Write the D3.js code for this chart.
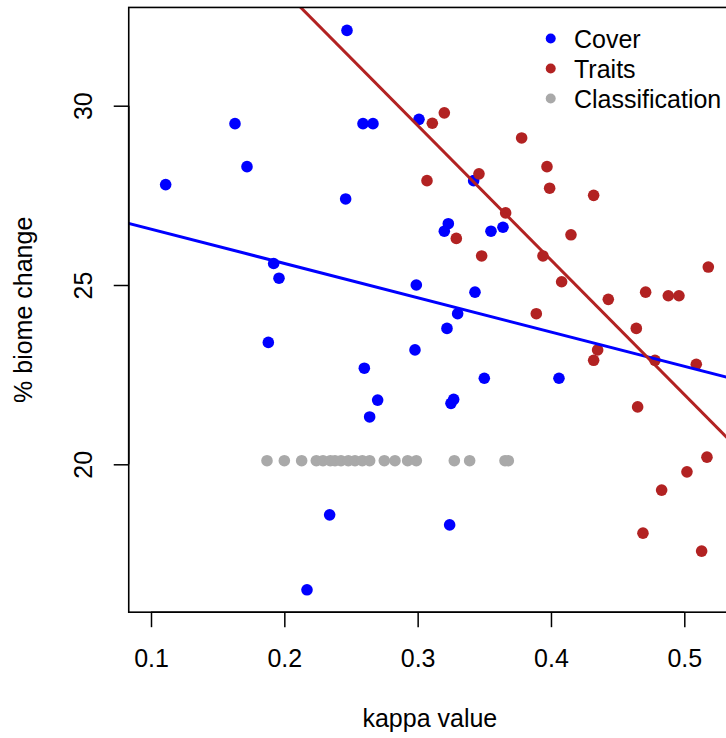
<!DOCTYPE html>
<html>
<head>
<meta charset="utf-8">
<script src="https://cdn.jsdelivr.net/npm/d3@7"></script>
<style>
  html, body { margin: 0; padding: 0; background: #fff; overflow: hidden; }
  svg { display: block; }
  text { font-family: "Liberation Sans", Arial, Helvetica, sans-serif; fill: #000; }
</style>
</head>
<body>
<svg id="chart" width="726" height="738"></svg>
<script>
// ---- data ----
const coverX = [0.111, 0.163, 0.172, 0.247, 0.246, 0.259, 0.2665, 0.301, 0.342, 0.323, 0.320, 0.355, 0.364,
  0.192, 0.196, 0.299, 0.343, 0.330, 0.322, 0.298, 0.188, 0.260, 0.350, 0.406, 0.270, 0.264, 0.325, 0.327,
  0.234, 0.217, 0.324];
const coverY = [27.80, 29.50, 28.30, 32.10, 27.40, 29.50, 29.50, 29.62, 27.91, 26.71, 26.50, 26.50, 26.61,
  25.60, 25.19, 25.00, 24.80, 24.20, 23.79, 23.19, 23.40, 22.68, 22.40, 22.40, 21.79, 21.32, 21.70, 21.81,
  18.59, 16.50, 18.31];

const traitsX = [0.320, 0.311, 0.378, 0.307, 0.346, 0.397, 0.399, 0.432, 0.366, 0.329, 0.415, 0.348, 0.394,
  0.518, 0.408, 0.443, 0.471, 0.488, 0.496, 0.389, 0.464, 0.435, 0.432, 0.478, 0.509, 0.465, 0.517, 0.502,
  0.483, 0.469, 0.513];
const traitsY = [29.80, 29.51, 29.10, 27.91, 28.10, 28.30, 27.70, 27.50, 27.01, 26.30, 26.40, 25.81, 25.81,
  25.50, 25.09, 24.60, 24.80, 24.70, 24.70, 24.20, 23.79, 23.19, 22.90, 22.90, 22.79, 21.60, 20.20, 19.79,
  19.28, 18.08, 17.58];

const classX = [0.187, 0.200, 0.213, 0.224, 0.229, 0.2345, 0.238, 0.2425, 0.248, 0.253, 0.2585, 0.264,
  0.275, 0.283, 0.2925, 0.299, 0.3275, 0.339, 0.3655, 0.368];
const classY = [20.1, 20.1, 20.1, 20.1, 20.1, 20.1, 20.1, 20.1, 20.1, 20.1, 20.1, 20.1,
  20.1, 20.1, 20.1, 20.1, 20.1, 20.1, 20.1, 20.1];

// regression lines: [intercept, slope]
const coverFit = [27.515, -9.564];
const traitsFit = [40.706, -37.52];

const xTicks = [0.1, 0.2, 0.3, 0.4, 0.5];
const yTicks = [20, 25, 30];
const xLim = [0.0833, 0.535];
const yLim = [15.876, 32.74];

const seriesNames = ["Cover", "Traits", "Classification"];
const seriesColors = ["#0000ff", "#b22222", "#a9a9a9"];
const xTitle = "kappa value";
const yTitle = "% biome change";

// ---- drawing ----
(function () {
const FS = "25px";
const svg = d3.select("#chart");
const x = d3.scaleLinear().domain([0.1, 0.5]).range([151, 684.3]);
const y = d3.scaleLinear().domain([20, 30]).range([464.3, 105.7]);

const pL = x(xLim[0]), pR = x(xLim[1]), pT = y(yLim[1]), pB = y(yLim[0]);

svg.append("defs").append("clipPath").attr("id", "plotclip")
  .append("rect").attr("x", pL).attr("y", pT).attr("width", pR - pL).attr("height", pB - pT);

const plot = svg.append("g").attr("clip-path", "url(#plotclip)");

const series = [
  { xs: coverX, ys: coverY, c: seriesColors[0] },
  { xs: traitsX, ys: traitsY, c: seriesColors[1] },
  { xs: classX, ys: classY, c: seriesColors[2] }
];
series.forEach(s => {
  plot.append("g").selectAll("circle")
    .data(d3.range(s.xs.length))
    .join("circle")
    .attr("cx", i => x(s.xs[i]))
    .attr("cy", i => y(s.ys[i]))
    .attr("r", 5.8)
    .attr("fill", s.c);
});

[[coverFit, seriesColors[0]], [traitsFit, seriesColors[1]]].forEach(([f, c]) => {
  const x0 = xLim[0] - 0.1, x1 = xLim[1] + 0.1;
  plot.append("line")
    .attr("x1", x(x0)).attr("y1", y(f[0] + f[1] * x0))
    .attr("x2", x(x1)).attr("y2", y(f[0] + f[1] * x1))
    .attr("stroke", c).attr("stroke-width", 3);
});

// frame
svg.append("rect").attr("x", pL).attr("y", pT)
  .attr("width", pR - pL).attr("height", pB - pT)
  .attr("fill", "none").attr("stroke", "#000").attr("stroke-width", 1.6);

// x axis
const xAxis = d3.axisBottom(x).tickValues(xTicks).tickSize(15).tickPadding(0).tickFormat(d3.format(".1f"));
const gx = svg.append("g").attr("transform", `translate(0,${pB})`).call(xAxis);
gx.select(".domain").attr("stroke-width", 1.6).attr("d", `M${x(xTicks[0])},0H${x(xTicks[xTicks.length - 1])}`);
gx.selectAll(".tick line").attr("stroke-width", 1.5);
gx.selectAll(".tick text").attr("y", 55).attr("dy", null)
  .style("font-size", FS).style("font-family", "Liberation Sans, Arial, sans-serif").attr("fill", "#000");

// y axis
const yAxis = d3.axisLeft(y).tickValues(yTicks).tickSize(15).tickFormat(d3.format("d"));
const gy = svg.append("g").attr("transform", `translate(${pL},0)`).call(yAxis);
gy.select(".domain").attr("stroke-width", 1.6).attr("d", `M0,${y(yTicks[0])}V${y(yTicks[yTicks.length - 1])}`);
gy.selectAll(".tick line").attr("stroke-width", 1.5);
gy.selectAll(".tick text")
  .attr("x", null).attr("dy", null).attr("y", null)
  .attr("text-anchor", "middle")
  .attr("transform", `translate(${92 - pL},0) rotate(-90)`)
  .style("font-size", FS).style("font-family", "Liberation Sans, Arial, sans-serif").attr("fill", "#000");

// axis titles
svg.append("text").attr("x", (pL + pR) / 2).attr("y", 726.5)
  .attr("text-anchor", "middle").style("font-size", FS).text(xTitle);
svg.append("text").attr("transform", `translate(32,${(pT + pB) / 2}) rotate(-90)`)
  .attr("text-anchor", "middle").style("font-size", FS).text(yTitle);

// legend
const lg = svg.append("g");
seriesNames.forEach((n, i) => {
  const cy = 38.5 + i * 30;
  lg.append("circle").attr("cx", 550.7).attr("cy", cy).attr("r", 5).attr("fill", seriesColors[i]);
  lg.append("text").attr("x", 574).attr("y", cy + 9).style("font-size", FS).text(n);
});
})();
</script>
</body>
</html>
